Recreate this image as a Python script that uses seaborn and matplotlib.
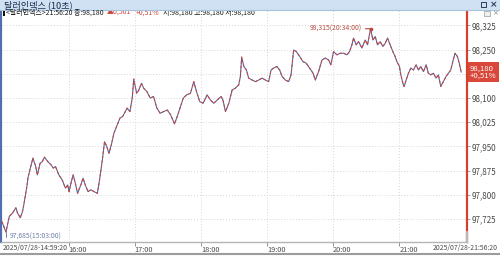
import matplotlib
matplotlib.use("Agg")
import matplotlib.pyplot as plt
from matplotlib.patches import Rectangle
from matplotlib.lines import Line2D
import seaborn as sns
import pandas as pd

# ---------------- data ----------------
DAY = "2025-07-28"
times = [
    "14:59:20", "15:03:00", "15:06:00", "15:09:00", "15:12:00", "15:13:30", "15:16:00", "15:18:00",
    "15:19:30", "15:22:00", "15:23:00", "15:25:30", "15:27:30", "15:30:00", "15:31:30", "15:34:00",
    "15:36:00", "15:38:00", "15:41:00", "15:44:00", "15:46:00", "15:48:00", "15:51:00", "15:54:00",
    "15:57:00", "15:59:00", "16:00:20", "16:02:00", "16:04:00", "16:06:00", "16:08:00", "16:11:00",
    "16:13:00", "16:15:00", "16:17:30", "16:20:00", "16:23:00", "16:26:00", "16:28:00", "16:30:30",
    "16:32:30", "16:34:30", "16:36:30", "16:38:40", "16:41:00", "16:44:00", "16:46:30", "16:49:00",
    "16:53:00", "16:55:30", "16:57:40", "16:59:00", "17:01:40", "17:03:40", "17:06:00", "17:08:00",
    "17:11:00", "17:14:00", "17:17:00", "17:20:00", "17:23:00", "17:26:00", "17:29:30", "17:32:30",
    "17:36:00", "17:38:30", "17:41:30", "17:44:00", "17:47:00", "17:50:30", "17:53:30", "17:56:00",
    "17:59:00", "18:02:00", "18:05:40", "18:08:40", "18:11:40", "18:14:50", "18:18:20", "18:20:00",
    "18:22:20", "18:25:20", "18:28:20", "18:31:20", "18:34:20", "18:35:50", "18:37:00", "18:39:00",
    "18:41:20", "18:43:20", "18:46:30", "18:49:30", "18:52:30", "18:55:30", "18:58:30", "19:01:30",
    "19:03:40", "19:06:00", "19:09:00", "19:11:30", "19:13:40", "19:16:40", "19:19:40", "19:21:50",
    "19:24:10", "19:26:40", "19:29:40", "19:32:40", "19:35:40", "19:38:40", "19:41:50", "19:43:50",
    "19:46:50", "19:49:55", "19:52:55", "19:55:55", "19:58:00", "20:00:25", "20:03:30", "20:06:30",
    "20:09:30", "20:12:35", "20:14:55", "20:17:05", "20:18:35", "20:21:00", "20:23:05", "20:26:10",
    "20:29:10", "20:31:15", "20:34:00", "20:36:10", "20:38:15", "20:40:20", "20:42:45", "20:45:15",
    "20:47:20", "20:49:25", "20:51:50", "20:54:15", "20:56:20", "20:57:55", "21:00:15", "21:01:30",
    "21:03:20", "21:04:30", "21:06:20", "21:08:25", "21:10:35", "21:12:55", "21:15:25", "21:17:30",
    "21:19:40", "21:22:00", "21:24:30", "21:26:30", "21:28:40", "21:31:05", "21:33:30", "21:35:35",
    "21:37:45", "21:40:05", "21:42:35", "21:44:40", "21:46:50", "21:48:40", "21:50:45", "21:52:50",
    "21:54:35", "21:56:20",
]
values = [
    97.717, 97.685, 97.733, 97.744, 97.760, 97.744, 97.729, 97.748,
    97.775, 97.826, 97.853, 97.888, 97.914, 97.888, 97.862, 97.898,
    97.903, 97.917, 97.903, 97.893, 97.883, 97.888, 97.862, 97.847,
    97.821, 97.831, 97.810, 97.836, 97.862, 97.836, 97.805, 97.831,
    97.852, 97.831, 97.810, 97.816, 97.810, 97.805, 97.847, 97.908,
    97.965, 97.950, 97.929, 97.955, 97.991, 98.017, 98.038, 98.043,
    98.069, 98.058, 98.100, 98.159, 98.115, 98.125, 98.146, 98.131,
    98.120, 98.100, 98.105, 98.069, 98.053, 98.058, 98.063, 98.048,
    98.020, 98.043, 98.074, 98.100, 98.110, 98.115, 98.151, 98.120,
    98.089, 98.084, 98.110, 98.094, 98.084, 98.094, 98.105, 98.094,
    98.058, 98.084, 98.125, 98.131, 98.141, 98.167, 98.227, 98.198,
    98.187, 98.162, 98.156, 98.151, 98.156, 98.162, 98.156, 98.151,
    98.187, 98.193, 98.198, 98.187, 98.167, 98.156, 98.151, 98.172,
    98.249, 98.244, 98.229, 98.213, 98.208, 98.193, 98.177, 98.156,
    98.182, 98.218, 98.224, 98.218, 98.203, 98.244, 98.234, 98.239,
    98.239, 98.234, 98.244, 98.265, 98.286, 98.265, 98.275, 98.255,
    98.280, 98.265, 98.315, 98.280, 98.291, 98.265, 98.275, 98.260,
    98.270, 98.286, 98.265, 98.244, 98.229, 98.213, 98.198, 98.172,
    98.146, 98.136, 98.156, 98.177, 98.193, 98.187, 98.203, 98.187,
    98.198, 98.182, 98.203, 98.177, 98.172, 98.177, 98.162, 98.172,
    98.136, 98.151, 98.167, 98.177, 98.187, 98.213, 98.239, 98.229,
    98.208, 98.180,
]
high_time, high_value = "20:34:00", 98.315
low_time, low_value = "15:03:00", 97.685
last_value = 98.180
change_abs = "▲0,501"
change_pct = "+0,51%"
y_ticks = [97.725, 97.800, 97.875, 97.950, 98.025, 98.100, 98.175, 98.250, 98.325]
hour_ticks = ["16:00", "17:00", "18:00", "19:00", "20:00", "21:00"]
start_label = "2025/07/28-14:59:20"
end_label = "2025/07/28-21:56:20"
window_title = "달러인덱스 (10초)"
info_head = "<달러인덱스>21:56:20 종:98,180"
info_tail = "시:98,180 고:98,180 저:98,180"

# ---------------- style ----------------
sns.set_theme(style="white")
FONTS = ["Liberation Sans Narrow", "Noto Sans CJK KR", "DejaVu Sans"]
plt.rcParams["font.family"] = FONTS

BLUE = "#4d62a0"
RED = "#d0453a"
EDGE_RED = "#d2402e"
GRID = "#d6d6d6"
TXT = "#4a4a4a"
SMALL = 4.9


def fmt(v):
    return f"{v:.3f}".replace(".", ",")


def ts(t):
    return pd.Timestamp(f"{DAY} {t}")


df = pd.DataFrame({"time": [ts(t) for t in times], "value": values})

fig = plt.figure(figsize=(5, 2.56), dpi=100)
fig.patch.set_facecolor("white")
ax = fig.add_axes([1 / 500, 14 / 256, 466 / 500, 232 / 256])
ax.set_facecolor("white")

sns.lineplot(data=df, x="time", y="value", ax=ax, color=BLUE, lw=0.75, zorder=3)
sns.lineplot(data=df, x="time", y="value", ax=ax, color=RED, lw=0.75, zorder=4)
ax.lines[-1].set_linestyle((0, (2.4, 2.0)))

ax.set_xlim(ts("14:58:30"), ts("22:01:35"))
ax.set_ylim(97.654, 98.373)
ax.set_xlabel("")
ax.set_ylabel("")

# y axis on the right
ax.set_yticks(y_ticks)
ax.set_yticklabels(["" if abs(v - last_value) < 0.01 else fmt(v) for v in y_ticks])
ax.yaxis.tick_right()
ax.tick_params(axis="y", right=True, left=False, length=2, width=0.6, color="#909090",
               pad=1.5, labelsize=5.8, labelcolor=TXT)

# x axis
ax.set_xticks([ts(h) for h in hour_ticks])
ax.set_xticklabels(hour_ticks, ha="left")
ax.tick_params(axis="x", bottom=True, length=3, width=0.6, color="#808080",
               pad=0.2, labelsize=5.3, labelcolor=TXT)

ax.grid(True, color=GRID, linestyle=(0, (1, 2)), lw=0.7)
ax.set_axisbelow(True)

ax.spines["top"].set_visible(False)
ax.spines["left"].set_color("#4f6fb0")
ax.spines["left"].set_linewidth(1.6)
ax.spines["right"].set_color(EDGE_RED)
ax.spines["right"].set_linewidth(1.6)
ax.spines["bottom"].set_color("#b4b4b4")
ax.spines["bottom"].set_linewidth(1.0)

# current-value badge
ax.text(1.006, last_value, f"{fmt(last_value)}\n{change_pct}", transform=ax.get_yaxis_transform(),
        ha="left", va="center", fontsize=5.6, color="white", linespacing=0.95,
        bbox=dict(boxstyle="square,pad=0.28", fc="#d9473a", ec="none"), zorder=10, clip_on=False)

# high / low annotations
ax.annotate(f"{fmt(high_value)}({high_time})", xy=(ts(high_time), high_value), xytext=(-6, 0),
            textcoords="offset points", ha="right", va="center", fontsize=SMALL, color="#b5493c",
            arrowprops=dict(arrowstyle="-", color="#b5493c", lw=0.8, shrinkA=0, shrinkB=0), zorder=6)
ax.plot([ts(high_time)], [high_value], marker="o", ms=1.6, color="#b5493c", zorder=6)

ax.annotate(f"{fmt(low_value)}({low_time})", xy=(ts(low_time), low_value), xytext=(2.5, -3.6),
            textcoords="offset points", ha="left", va="center", fontsize=SMALL, color="#6c7ea8",
            arrowprops=dict(arrowstyle="-", color="#6c7ea8", lw=0.7, shrinkA=0, shrinkB=0,
                            connectionstyle="angle,angleA=0,angleB=90,rad=0"), zorder=6)

# ---------------- window chrome ----------------
fig.patches.append(Rectangle((0, 1 - 10 / 256), 1, 10 / 256, transform=fig.transFigure,
                             fc="#cfe1f3", ec="none", zorder=1))
fig.lines.append(Line2D([0, 1], [1 - 10 / 256, 1 - 10 / 256], transform=fig.transFigure,
                        color="#a9c2dc", lw=0.8, zorder=2))
fig.text(4 / 500, 1 - 5 / 256, window_title, fontsize=6.6, color="#1d2b4a", va="center", ha="left")
# title-bar icons
fig.patches.append(Rectangle((481 / 500, 1 - 7 / 256), 5 / 500, 5 / 256, transform=fig.transFigure,
                             fc="none", ec="#2a3a5a", lw=0.7, zorder=3))
fig.text(494 / 500, 1 - 5 / 256, "×", fontsize=6.5, color="#2a3a5a", va="center", ha="center",
         family="DejaVu Sans", weight="bold")
# small icons right of the red line
fig.patches.append(Rectangle((484 / 500, 1 - 16 / 256), 6 / 500, 5 / 256, transform=fig.transFigure,
                             fc="#f0f0f0", ec="#9a9a9a", lw=0.5, zorder=3))
fig.text(495 / 500, 1 - 13.5 / 256, "×", fontsize=5, color="#8a8a8a", va="center", ha="center",
         family="DejaVu Sans")

# info line
INFO = 5.0
fig.patches.append(Rectangle((3 / 500, 1 - 16 / 256), 1.6 / 500, 5 / 256, transform=fig.transFigure,
                             fc="#111111", ec="none", zorder=3))
t1 = fig.text(6 / 500, 1 - 16.5 / 256, info_head, fontsize=INFO, color="#1a1a1a", va="bottom", ha="left")
t2 = ax.annotate(change_abs, xy=(1, 0), xycoords=t1, xytext=(2.5, 0), textcoords="offset points",
                 va="bottom", ha="left", fontsize=INFO, color="#c9453a", annotation_clip=False)
t3 = ax.annotate(change_pct, xy=(1, 0), xycoords=t2, xytext=(3, 0), textcoords="offset points",
                 va="bottom", ha="left", fontsize=INFO, color="#c9453a", annotation_clip=False)
ax.annotate(info_tail, xy=(1, 0), xycoords=t3, xytext=(3, 0), textcoords="offset points",
            va="bottom", ha="left", fontsize=INFO, color="#1a1a1a", annotation_clip=False)

# bottom labels and lines
fig.text(3 / 500, 1 - 248 / 256, start_label, fontsize=SMALL, color=TXT, va="center", ha="left")
fig.text(498 / 500, 1 - 248 / 256, end_label, fontsize=SMALL, color=TXT, va="center", ha="right")
fig.lines.append(Line2D([467 / 500, 467 / 500], [1 - 242 / 256, 1 - 232 / 256], transform=fig.transFigure,
                        color="#b8b8b8", lw=1.6, zorder=3))
fig.lines.append(Line2D([0, 1], [2 / 256, 2 / 256], transform=fig.transFigure,
                        color="#9c9c9c", lw=1.5, zorder=3))

fig.savefig("out.png", dpi=100, facecolor="white")
